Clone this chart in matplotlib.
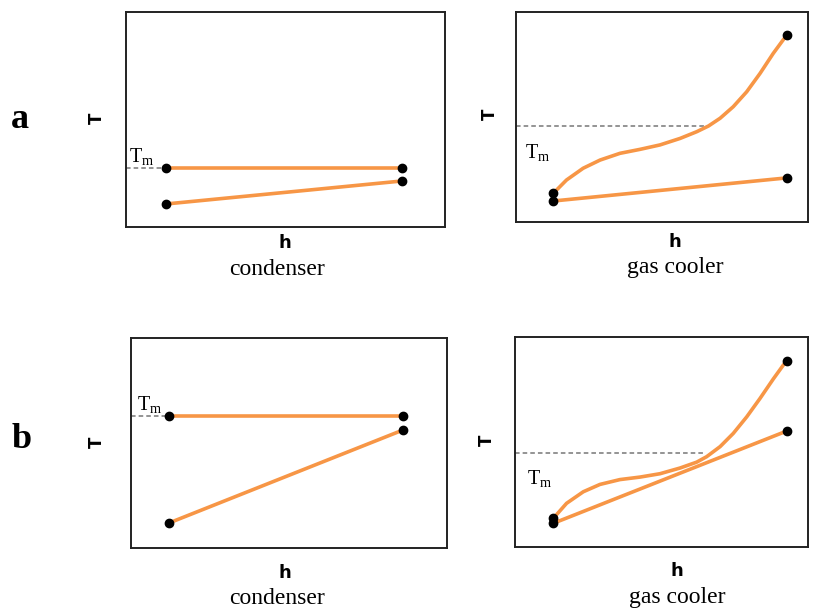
import matplotlib
matplotlib.use("Agg")
import matplotlib.pyplot as plt

plt.rcParams["mathtext.fontset"] = "custom"
plt.rcParams["mathtext.rm"] = "Liberation Serif"
plt.rcParams["mathtext.it"] = "Liberation Serif:italic"

# values as fractions of each panel box (x: h, y: T)
# panel a, condenser
a_cond_x = [0.125, 0.865]
a_cond_hot = [0.274, 0.274]
a_cond_cold = [0.107, 0.214]
a_cond_tm = 0.274

# panel a, gas cooler
a_gc_hot_x = [0.128, 0.173, 0.23, 0.288, 0.356, 0.425, 0.493, 0.562, 0.619,
              0.659, 0.699, 0.744, 0.79, 0.836, 0.881, 0.927]
a_gc_hot_y = [0.137, 0.2, 0.256, 0.295, 0.327, 0.346, 0.367, 0.398, 0.43,
              0.457, 0.494, 0.549, 0.62, 0.708, 0.803, 0.89]
a_gc_cold_x = [0.128, 0.927]
a_gc_cold_y = [0.10, 0.21]
a_gc_tm = 0.457
a_gc_tm_end = 0.659

# panel b, condenser
b_cond_x = [0.12, 0.861]
b_cond_hot = [0.629, 0.629]
b_cond_cold = [0.119, 0.562]
b_cond_tm = 0.629

# panel b, gas cooler
b_gc_hot_x = [0.131, 0.176, 0.233, 0.29, 0.358, 0.427, 0.495, 0.563, 0.62,
              0.654, 0.7, 0.745, 0.791, 0.836, 0.882, 0.927]
b_gc_hot_y = [0.137, 0.208, 0.263, 0.298, 0.321, 0.333, 0.349, 0.376, 0.404,
              0.43, 0.478, 0.541, 0.62, 0.707, 0.801, 0.888]
b_gc_cold_x = [0.131, 0.927]
b_gc_cold_y = [0.113, 0.552]
b_gc_tm = 0.448
b_gc_tm_end = 0.64

orange = "#F79646"
W, H = 815, 610

fig = plt.figure(figsize=(8.15, 6.10), dpi=100)


def px(x, y):
    return x / W, 1 - y / H


def panel(l, t, r, b):
    ax = fig.add_axes([l / W, 1 - b / H, (r - l) / W, (b - t) / H])
    ax.set_xlim(0, 1)
    ax.set_ylim(0, 1)
    ax.set_xticks([])
    ax.set_yticks([])
    for s in ax.spines.values():
        s.set_linewidth(1.4)
        s.set_color("#222222")
    return ax


def line(ax, x, y):
    ax.plot(x, y, color=orange, lw=2.6, solid_capstyle="round",
            solid_joinstyle="round", zorder=2)
    ax.plot([x[0], x[-1]], [y[0], y[-1]], "o", color="black", ms=6, zorder=3)


def tm(ax, y, x_end, tx, ty):
    ax.plot([0, x_end], [y, y], ls=(0, (3, 2)), color="#777777", lw=1.1, zorder=1)
    ax.text(tx, ty, r"T$_\mathrm{m}$", fontsize=14.5, family="Liberation Serif",
            transform=ax.transAxes)


serif = "Liberation Serif"
sans = "DejaVu Sans"

# a - condenser
ax = panel(126, 12, 445, 227)
tm(ax, a_cond_tm, a_cond_x[0], 0.01, a_cond_tm + 0.03)
line(ax, a_cond_x, a_cond_hot)
line(ax, a_cond_x, a_cond_cold)

# a - gas cooler
ax = panel(516, 12, 808, 222)
tm(ax, a_gc_tm, a_gc_tm_end, 0.03, a_gc_tm - 0.15)
line(ax, a_gc_hot_x, a_gc_hot_y)
line(ax, a_gc_cold_x, a_gc_cold_y)

# b - condenser
ax = panel(131, 338, 447, 548)
tm(ax, b_cond_tm, b_cond_x[0], 0.02, b_cond_tm + 0.03)
line(ax, b_cond_x, b_cond_hot)
line(ax, b_cond_x, b_cond_cold)

# b - gas cooler
ax = panel(515, 337, 808, 547)
tm(ax, b_gc_tm, b_gc_tm_end, 0.04, b_gc_tm - 0.15)
line(ax, b_gc_hot_x, b_gc_hot_y)
line(ax, b_gc_cold_x, b_gc_cold_y)

# labels
fig.text(*px(20, 120), "a", fontsize=26, fontweight="bold", family=serif, ha="center", va="center")
fig.text(*px(22, 440), "b", fontsize=26, fontweight="bold", family=serif, ha="center", va="center")

for x, y in [(97, 118), (490, 114), (97, 442), (487, 440)]:
    fig.text(*px(x, y), "T", fontsize=12, fontweight="bold", family=sans,
             rotation=90, ha="center", va="center")

for x, y, name in [(285, 243, "condenser"), (675, 242, "gas cooler"),
                   (285, 573, "condenser"), (677, 571, "gas cooler")]:
    fig.text(*px(x, y), "h", fontsize=13, fontweight="bold", family=sans, ha="center", va="center")
    fig.text(*px(x - 8 if name == "condenser" else x, y + 26), name, fontsize=17,
             family=serif, ha="center", va="center")

fig.savefig("out.png", dpi=100)
